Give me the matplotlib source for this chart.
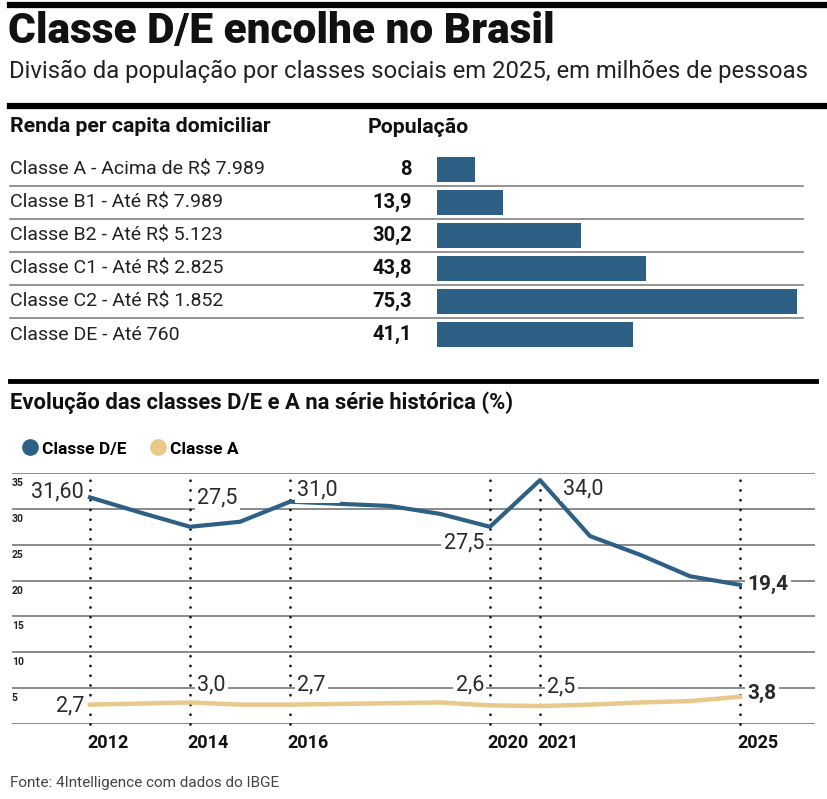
import matplotlib.pyplot as plt
from matplotlib.lines import Line2D
from matplotlib.transforms import blended_transform_factory

plt.rcParams['font.family'] = ['Roboto', 'DejaVu Sans']

W, H = 828, 799

# tabela: populacao por classe (milhoes de pessoas)
classes = ['Classe A - Acima de R$ 7.989', 'Classe B1 - Até R$ 7.989',
           'Classe B2 - Até R$ 5.123', 'Classe C1 - Até R$ 2.825',
           'Classe C2 - Até R$ 1.852', 'Classe DE - Até 760']
populacao = [8, 13.9, 30.2, 43.8, 75.3, 41.1]
populacao_txt = ['8', '13,9', '30,2', '43,8', '75,3', '41,1']

# serie historica (%)
anos = list(range(2012, 2026))
classe_de = [31.6, 29.5, 27.5, 28.2, 31.0, 30.7, 30.4, 29.3, 27.5, 34.0, 26.2, 23.6, 20.6, 19.4]
classe_a = [2.7, 2.85, 3.0, 2.7, 2.7, 2.8, 2.9, 3.0, 2.6, 2.5, 2.7, 3.0, 3.2, 3.8]
anos_marcados = [2012, 2014, 2016, 2020, 2021, 2025]
rotulos_de = ['31,60', '27,5', '31,0', '27,5', '34,0', '19,4']
rotulos_a = ['2,7', '3,0', '2,7', '2,6', '2,5', '3,8']

azul = '#2e5f84'
areia = '#e8c98b'


def fx(px):
    return px / W


def fy(py):
    return 1 - py / H


fig = plt.figure(figsize=(W / 100, H / 100), dpi=100)

# titulo e regras
fig.add_artist(Line2D([fx(10), 1], [fy(5), fy(5)], color='black', lw=4.5))
fig.text(fx(8), fy(31), 'Classe D/E encolhe no Brasil', fontsize=30.5,
         fontweight='black', va='center', color='#111')
fig.text(fx(9), fy(71), 'Divisão da população por classes sociais em 2025, em milhões de pessoas',
         fontsize=17.2, fontweight='normal', va='center', color='#222')
fig.add_artist(Line2D([fx(10), 1], [fy(106), fy(106)], color='black', lw=4.5))

fig.text(fx(10), fy(127), 'Renda per capita domiciliar', fontsize=15.3,
         fontweight='bold', va='center', color='#111')
fig.text(fx(368), fy(127), 'População', fontsize=15.3,
         fontweight='bold', va='center', color='#111')

# barras
axb = fig.add_axes([fx(437), fy(351), (797 - 437) / W, (351 - 153) / H])
axb.barh(range(len(classes)), populacao, height=0.76, color=azul)
axb.set_xlim(0, max(populacao))
axb.set_ylim(len(classes) - 0.5, -0.5)
axb.axis('off')
tr = blended_transform_factory(fig.transFigure, axb.transData)
for i, (c, t) in enumerate(zip(classes, populacao_txt)):
    axb.text(fx(10), i, c, transform=tr, fontsize=14, fontweight='normal',
             va='center', color='#222')
    axb.text(fx(412), i, t, transform=tr, fontsize=14.5, fontweight='bold',
             va='center', ha='right', color='#111')
for i in range(len(classes) - 1):
    axb.plot([fx(10), fx(803)], [i + 0.5, i + 0.5], transform=tr,
             color='#777', lw=1.1, clip_on=False)

# segunda parte
fig.add_artist(Line2D([fx(10), fx(816)], [fy(381), fy(381)], color='black', lw=3.5))
fig.text(fx(10), fy(403), 'Evolução das classes D/E e A na série histórica (%)',
         fontsize=15.8, fontweight='bold', va='center', color='#111')

ax = fig.add_axes([fx(12), fy(724), (815 - 12) / W, (724 - 473) / H])
ax.set_xlim(2012 - 78 / 50, 2012 + (815 - 90) / 50)
ax.set_ylim(0, 35)
for s in ax.spines.values():
    s.set_visible(False)
ax.set_xticks([])
ax.set_yticks(range(0, 40, 5))
ax.tick_params(left=False, labelleft=False)
ax.yaxis.grid(True, color='#8a8a8a', lw=1.4)
ax.set_axisbelow(True)

tr2 = blended_transform_factory(fig.transFigure, ax.transData)
for v in range(5, 40, 5):
    ax.text(fx(12), v - 1.4, str(v), transform=tr2, fontsize=7.5,
            fontweight='bold', va='center', color='#222')

for a in anos_marcados:
    ax.plot([a, a], [0, 35], color='#111', lw=2, ls=(0, (0.01, 3.5)),
            dash_capstyle='round', clip_on=False, zorder=2)
    ax.text(a - 0.05, -2.7, str(a), fontsize=13, fontweight='bold',
            va='center', ha='left', color='#111', clip_on=False)

ax.plot(anos, classe_de, color=azul, lw=3, zorder=3, solid_joinstyle='round')
ax.plot(anos, classe_a, color=areia, lw=3.2, zorder=3, solid_joinstyle='round')

caixa = dict(facecolor='white', edgecolor='none', pad=1.5)
# deslocamentos de posicao dos rotulos (lado, y)
pos_de = [('r', 32.4), ('l', 31.5), ('l', 32.6), ('r', 25.3), ('l', 32.8), ('l', 19.4)]
pos_a = [('r', 2.5), ('l', 5.5), ('l', 5.5), ('r', 5.5), ('l', 5.2), ('l', 4.2)]
for grupo, pos in ((rotulos_de, pos_de), (rotulos_a, pos_a)):
    for k, (a, txt, (lado, y)) in enumerate(zip(anos_marcados, grupo, pos)):
        ultimo = k == len(anos_marcados) - 1
        if lado == 'r':
            x, ha = a - 0.12, 'right'
        else:
            x, ha = a + 0.15, 'left'
        if a == 2021 and grupo is rotulos_de:
            x = a + 0.45
        ax.text(x, y, txt, ha=ha, va='center', fontsize=15.5 if not ultimo else 15,
                fontweight='bold' if ultimo else 'normal', color='#2a2a2a',
                bbox=caixa, zorder=4)

handles = [Line2D([], [], marker='o', ls='none', color=azul, markersize=11),
           Line2D([], [], marker='o', ls='none', color=areia, markersize=11)]
fig.legend(handles, ['Classe D/E', 'Classe A'], loc='center left',
           bbox_to_anchor=(fx(4), fy(449)), ncol=2, frameon=False,
           handletextpad=0.1, columnspacing=1.2, handlelength=1.2,
           prop=dict(weight='bold', size=12.5))

fig.text(fx(10), fy(783), 'Fonte: 4Intelligence com dados do IBGE', fontsize=11,
         fontweight='normal', va='center', color='#444')

fig.savefig('out.png', dpi=100)
